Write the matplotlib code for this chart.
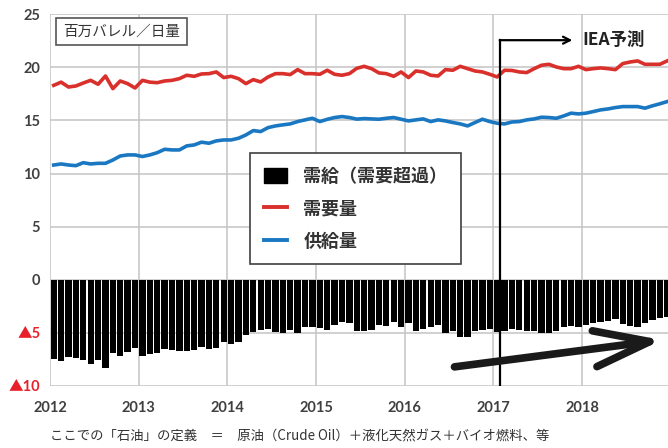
import matplotlib
matplotlib.use("Agg")
import matplotlib.pyplot as plt
from matplotlib.patches import Patch
from matplotlib.lines import Line2D
import numpy as np

plt.rcParams['font.family'] = ['Lato', 'Noto Sans CJK JP', 'DejaVu Sans']

# 月次データ 2012年1月 ～ 2018年12月 (百万バレル/日量)
years = [2012, 2013, 2014, 2015, 2016, 2017, 2018]

demand = [18.3, 18.6, 18.14, 18.24, 18.52, 18.77, 18.4, 19.18, 17.99, 18.71, 18.46, 18.05,
          18.77, 18.6, 18.55, 18.71, 18.77, 18.93, 19.25, 19.15, 19.37, 19.4, 19.56, 19.03,
          19.15, 18.93, 18.46, 18.84, 18.62, 19.09, 19.4, 19.4, 19.31, 19.78, 19.4, 19.4,
          19.34, 19.72, 19.34, 19.25, 19.4, 19.9, 20.09, 19.87, 19.47, 19.4, 19.15, 19.56,
          19.03, 19.65, 19.56, 19.25, 19.18, 19.78, 19.72, 20.09, 19.87, 19.65, 19.56, 19.34,
          19.09, 19.72, 19.7, 19.56, 19.5, 19.87, 20.19, 20.28, 20.03, 19.87, 19.87, 20.09,
          19.78, 19.87, 19.94, 19.87, 19.78, 20.35, 20.5, 20.6, 20.28, 20.28, 20.28, 20.6]

supply = [10.8, 10.9, 10.8, 10.74, 11.02, 10.9, 10.96, 10.96, 11.27, 11.65, 11.75, 11.75,
          11.6, 11.75, 11.96, 12.28, 12.22, 12.22, 12.6, 12.69, 12.95, 12.85, 13.07, 13.16,
          13.16, 13.32, 13.63, 14.04, 13.95, 14.32, 14.48, 14.58, 14.67, 14.89, 15.05, 15.2,
          14.89, 15.1, 15.27, 15.36, 15.27, 15.12, 15.17, 15.14, 15.11, 15.2, 15.27, 15.11,
          14.95, 15.05, 15.14, 14.89, 15.05, 14.95, 14.8, 14.67, 14.48, 14.8, 15.11, 14.89,
          14.73, 14.67, 14.85, 14.89, 15.05, 15.14, 15.3, 15.27, 15.2, 15.42, 15.68, 15.61,
          15.68, 15.83, 15.99, 16.08, 16.21, 16.3, 16.3, 16.3, 16.15, 16.37, 16.56, 16.77]

balance = [-7.48, -7.64, -7.3, -7.39, -7.55, -7.96, -7.55, -8.27, -6.86, -7.17, -6.79, -6.42,
           -7.17, -6.98, -6.86, -6.54, -6.6, -6.67, -6.7, -6.6, -6.32, -6.51, -6.38, -5.82,
           -6.04, -5.82, -5.19, -4.94, -4.72, -4.65, -4.94, -4.97, -4.72, -4.97, -4.47, -4.4,
           -4.56, -4.72, -4.25, -3.93, -4.09, -4.82, -4.87, -4.72, -4.25, -4.34, -3.99, -4.47,
           -4.09, -4.81, -4.62, -4.47, -4.25, -4.97, -4.87, -5.41, -5.35, -4.87, -4.72, -4.65,
           -4.9, -4.87, -4.65, -4.72, -4.87, -4.87, -4.97, -5.03, -4.78, -4.47, -4.34, -4.4,
           -4.25, -4.03, -3.93, -3.84, -3.71, -4.15, -4.34, -4.4, -4.09, -3.77, -3.62, -3.46]

y_ticks = [-10, -5, 0, 5, 10, 15, 20, 25]
y_labels = ['▲10', '▲5', '0', '5', '10', '15', '20', '25']
forecast_start = 2017.07  # IEA予測の開始

# 各月の中央の位置
x = 2012 + (np.arange(len(demand)) + 0.5) / 12

fig = plt.figure(figsize=(6.68, 4.48), dpi=100)
ax = fig.add_axes([0.0749, 0.1384, 0.925, 0.830])

grid_c = '#c4c4c4'
text_c = '#404040'
red = '#d9302c'
blue = '#1a78c2'

ax.bar(x, balance, width=0.071, color='black', zorder=2)
ax.plot(x, demand, color=red, lw=2.6, zorder=3)
ax.plot(x, supply, color=blue, lw=2.6, zorder=3)

ax.set_xlim(2012, 2018.967)
ax.set_ylim(-10, 25)
ax.set_xticks(years)
ax.set_xticklabels([str(y) for y in years])
ax.set_yticks(y_ticks)
ax.set_yticklabels(y_labels)
for lab in ax.get_yticklabels():
    if lab.get_text().startswith('▲'):
        lab.set_color('#e8202a')
    else:
        lab.set_color(text_c)
for lab in ax.get_xticklabels():
    lab.set_color(text_c)
ax.tick_params(axis='both', length=0, labelsize=10.5)
ax.tick_params(axis='y', pad=7)
ax.tick_params(axis='x', pad=11)
for lab in ax.get_xticklabels() + ax.get_yticklabels():
    lab.set_fontweight('bold')

ax.grid(True, color=grid_c, lw=1.1, zorder=0)
ax.set_axisbelow(True)
for s in ax.spines.values():
    s.set_visible(False)

# 単位の箱
ax.text(0.021, 0.954, '百万バレル／日量', transform=ax.transAxes, fontsize=10.5,
        family=['Noto Sans CJK JP', 'DejaVu Sans'], color='#333333', ha='left', va='center',
        bbox=dict(boxstyle='square,pad=0.45', fc='white', ec='#555555', lw=1.2), zorder=5)

# 凡例
handles = [Patch(facecolor='black', edgecolor='black'),
           Line2D([0], [0], color=red, lw=2.8),
           Line2D([0], [0], color=blue, lw=2.8)]
leg = ax.legend(handles, ['需給（需要超過）', '需要量', '供給量'],
                loc='upper left', bbox_to_anchor=(0.324, 0.626), borderaxespad=0,
                prop={'family': ['Noto Sans CJK JP', 'DejaVu Sans'], 'size': 13, 'weight': 'bold'},
                frameon=True, fancybox=False, framealpha=1, edgecolor='#404040',
                handlelength=1.3, handleheight=0.9, handletextpad=0.9,
                labelspacing=0.75, borderpad=0.75)
leg.get_frame().set_linewidth(1.2)
leg.set_zorder(6)
for t in leg.get_texts():
    t.set_color('#333333')

# IEA予測の線と矢印
ax.plot([forecast_start, forecast_start], [-9.95, 22.55], color='black', lw=1.6, zorder=7)
ax.annotate('', xy=(2017.89, 22.55), xytext=(forecast_start, 22.55),
            arrowprops=dict(arrowstyle='->,head_length=0.5,head_width=0.25', lw=1.6,
                            color='black', shrinkA=0, shrinkB=0), zorder=7)
ax.text(2018.0, 22.55, 'IEA予測', fontsize=12.5, fontweight='bold', color='#222222',
        family=['Noto Sans CJK JP', 'DejaVu Sans'], ha='left', va='center', zorder=7)

# 太い矢印
ax.annotate('', xy=(2018.9, -5.67), xytext=(2016.56, -8.2),
            arrowprops=dict(arrowstyle='->,head_length=2.0,head_width=0.65', lw=5.5,
                            color='#1a1a1a', shrinkA=0, shrinkB=0, mutation_scale=20),
            zorder=8)

fig.text(0.075, 0.0246, 'ここでの「石油」の定義　＝　原油（Crude Oil）＋液化天然ガス＋バイオ燃料、等',
         fontsize=9.6, family=['Noto Sans CJK JP', 'DejaVu Sans'], color='#333333',
         ha='left', va='center')

fig.savefig('out.png', dpi=100)
